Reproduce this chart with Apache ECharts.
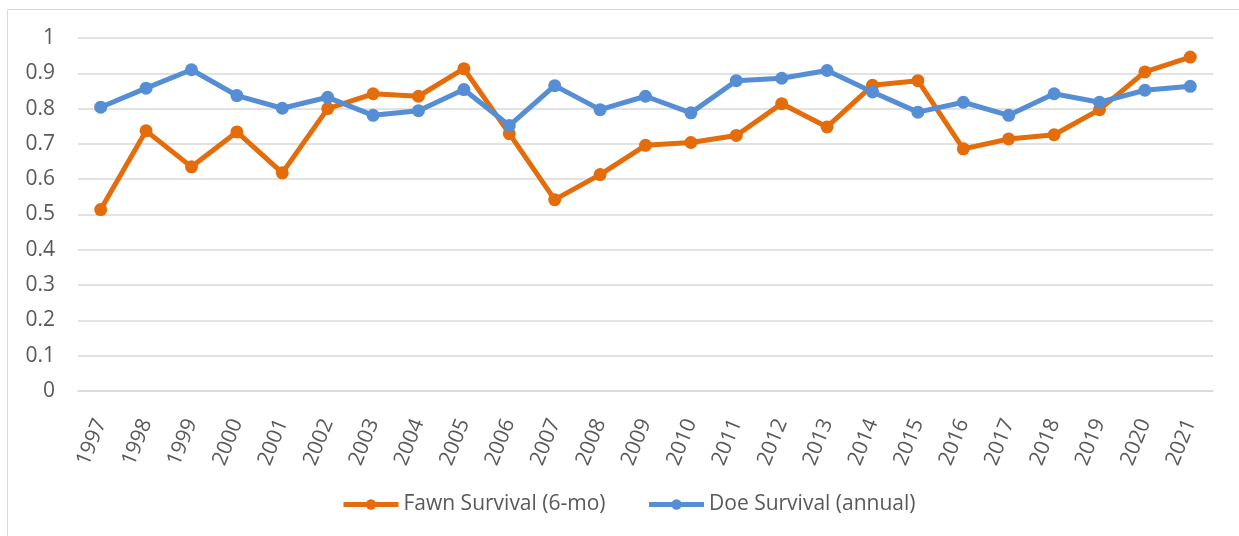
<!DOCTYPE html>
<html>
<head>
<meta charset="utf-8">
<script src="https://cdn.jsdelivr.net/npm/echarts@6/dist/echarts.min.js"></script>
<style>
  html, body { margin: 0; padding: 0; background: #fff; }
  #main { width: 1239px; height: 536px; }
</style>
</head>
<body>
<div id="main"></div>
<script>
// 年份
var years = ['1997', '1998', '1999', '2000', '2001', '2002', '2003', '2004', '2005', '2006', '2007', '2008', '2009',
	'2010', '2011', '2012', '2013', '2014', '2015', '2016', '2017', '2018', '2019', '2020', '2021'];
// 幼鹿存活率 (6个月)
var fawnSurvival = [0.514, 0.737, 0.635, 0.734, 0.618, 0.800, 0.842, 0.835, 0.913, 0.729, 0.542, 0.613, 0.696,
	0.704, 0.724, 0.814, 0.748, 0.866, 0.879, 0.686, 0.714, 0.726, 0.797, 0.904, 0.946];
// 母鹿存活率 (年)
var doeSurvival = [0.804, 0.858, 0.910, 0.837, 0.801, 0.832, 0.781, 0.794, 0.854, 0.752, 0.865, 0.797, 0.835,
	0.788, 0.879, 0.886, 0.908, 0.847, 0.790, 0.818, 0.781, 0.842, 0.818, 0.852, 0.863];
var seriesNames = ['Fawn Survival (6-mo)', 'Doe Survival (annual)'];

var fontName = 'Open Sans';
var textColor = '#595959';

var myChart = echarts.init(document.getElementById('main'));
var option = {
	animation: false,
	color: ['#E46C0A', '#558ED5'],
	textStyle: { fontFamily: fontName },
	graphic: [{
		type: 'rect',
		shape: { x: 7.5, y: 9.5, width: 1240, height: 540 },
		style: { fill: 'none', stroke: '#D9D9D9', lineWidth: 1 }
	}],
	legend: {
		data: seriesNames,
		left: 336,
		top: 489,
		itemWidth: 55,
		itemHeight: 13,
		itemGap: 41,
		lineStyle: { width: 5 },
		textStyle: { color: textColor, fontSize: 21, fontFamily: fontName }
	},
	grid: {
		left: 78,
		right: 26,
		top: 38,
		bottom: 145
	},
	xAxis: {
		type: 'category',
		data: years,
		boundaryGap: true,
		axisLine: { lineStyle: { color: '#D9D9D9', width: 1.5 } },
		axisTick: { show: false },
		axisLabel: {
			rotate: 68,
			margin: 29,
			interval: 0,
			color: textColor,
			fontSize: 21,
			fontFamily: fontName
		}
	},
	yAxis: {
		type: 'value',
		min: 0,
		max: 1,
		interval: 0.1,
		axisLine: { show: false },
		axisTick: { show: false },
		splitLine: { lineStyle: { color: '#D9D9D9', width: 1.5 } },
		axisLabel: {
			margin: 23,
			color: textColor,
			fontSize: 21,
			fontFamily: fontName,
			formatter: function (v) { return String(Math.round(v * 10) / 10); }
		}
	},
	series: [{
		name: seriesNames[0],
		type: 'line',
		data: fawnSurvival,
		symbol: 'circle',
		symbolSize: 13,
		lineStyle: { width: 5 }
	}, {
		name: seriesNames[1],
		type: 'line',
		data: doeSurvival,
		symbol: 'circle',
		symbolSize: 13,
		lineStyle: { width: 5 }
	}]
};
myChart.setOption(option);
</script>
</body>
</html>
